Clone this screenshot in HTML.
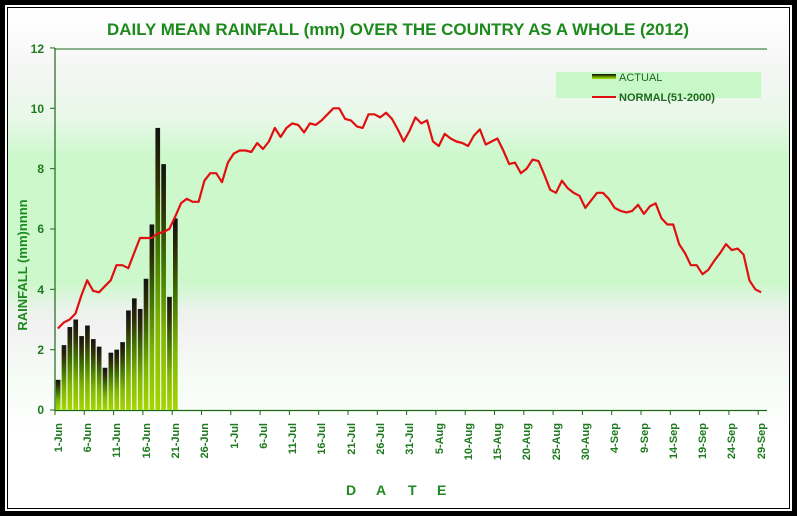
<!DOCTYPE html>
<html><head><meta charset="utf-8"><style>
body{margin:0;background:#000;}
svg{display:block;font-family:"Liberation Sans",sans-serif;}
</style></head><body>
<svg id="c" width="797" height="516" viewBox="0 0 797 516" xmlns="http://www.w3.org/2000/svg">
<defs>
<linearGradient id="bg" x1="0" y1="0" x2="0" y2="1">
<stop offset="0" stop-color="#ffffff"/>
<stop offset="0.13" stop-color="#f4f6f4"/>
<stop offset="0.22" stop-color="#e8f8e8"/>
<stop offset="0.3" stop-color="#ccf8cc"/>
<stop offset="0.55" stop-color="#ccf8cc"/>
<stop offset="0.6" stop-color="#eaf3ea"/>
<stop offset="0.64" stop-color="#f2f2f2"/>
<stop offset="0.75" stop-color="#f6fcf6"/>
<stop offset="0.85" stop-color="#ffffff"/>
<stop offset="1" stop-color="#ffffff"/>
</linearGradient>
<linearGradient id="bar" x1="0" y1="0" x2="0" y2="1">
<stop offset="0" stop-color="#111"/>
<stop offset="0.18" stop-color="#2e2e05"/>
<stop offset="0.4" stop-color="#3f7200"/>
<stop offset="0.7" stop-color="#80b800"/>
<stop offset="1" stop-color="#a5d600"/>
</linearGradient>
</defs>
<rect x="0" y="0" width="797" height="516" fill="#000"/>
<rect x="5" y="5" width="787" height="506" fill="#fff"/>
<rect x="7.5" y="7.5" width="782" height="501" fill="none" stroke="#000" stroke-width="1"/>
<rect x="8" y="8" width="781" height="500" fill="url(#bg)"/>
<text x="398" y="35" text-anchor="middle" font-size="17" font-weight="bold" fill="#1e8a1e" textLength="582" lengthAdjust="spacingAndGlyphs">DAILY MEAN RAINFALL (mm) OVER THE COUNTRY AS A WHOLE  (2012)</text>
<line x1="55" y1="49" x2="767" y2="49" stroke="#1a6a1a" stroke-width="1"/>
<line x1="55" y1="48" x2="55" y2="411" stroke="#1a6a1a" stroke-width="1.2"/>
<line x1="55" y1="410.5" x2="767" y2="410.5" stroke="#1a6a1a" stroke-width="1.2"/>
<g id="bars"></g>
<g id="ticks" stroke="#1a6a1a"></g>
<polyline id="ln" fill="none" stroke="#e01010" stroke-width="2.2" stroke-linejoin="round"/>
<g font-size="12" font-weight="bold" fill="#1e7a1e" text-anchor="end">
<text x="44" y="414">0</text><text x="44" y="354">2</text><text x="44" y="294">4</text>
<text x="44" y="233">6</text><text x="44" y="173">8</text><text x="44" y="113">10</text><text x="44" y="53">12</text>
</g>
<text transform="translate(27,265) rotate(-90)" text-anchor="middle" font-size="13" font-weight="bold" fill="#1e8a1e">RAINFALL (mm)nnnn</text>
<g font-size="11" font-weight="bold" fill="#1e7a1e" text-anchor="end">
<text transform="translate(62,423) rotate(-90)">1-Jun</text>
<text transform="translate(91,423) rotate(-90)">6-Jun</text>
<text transform="translate(120,423) rotate(-90)">11-Jun</text>
<text transform="translate(150,423) rotate(-90)">16-Jun</text>
<text transform="translate(179,423) rotate(-90)">21-Jun</text>
<text transform="translate(208,423) rotate(-90)">26-Jun</text>
<text transform="translate(238,423) rotate(-90)">1-Jul</text>
<text transform="translate(267,423) rotate(-90)">6-Jul</text>
<text transform="translate(296,423) rotate(-90)">11-Jul</text>
<text transform="translate(325,423) rotate(-90)">16-Jul</text>
<text transform="translate(355,423) rotate(-90)">21-Jul</text>
<text transform="translate(384,423) rotate(-90)">26-Jul</text>
<text transform="translate(413,423) rotate(-90)">31-Jul</text>
<text transform="translate(443,423) rotate(-90)">5-Aug</text>
<text transform="translate(472,423) rotate(-90)">10-Aug</text>
<text transform="translate(501,423) rotate(-90)">15-Aug</text>
<text transform="translate(530,423) rotate(-90)">20-Aug</text>
<text transform="translate(560,423) rotate(-90)">25-Aug</text>
<text transform="translate(589,423) rotate(-90)">30-Aug</text>
<text transform="translate(618,423) rotate(-90)">4-Sep</text>
<text transform="translate(648,423) rotate(-90)">9-Sep</text>
<text transform="translate(677,423) rotate(-90)">14-Sep</text>
<text transform="translate(706,423) rotate(-90)">19-Sep</text>
<text transform="translate(735,423) rotate(-90)">24-Sep</text>
<text transform="translate(765,423) rotate(-90)">29-Sep</text>
</g>
<g font-size="14" font-weight="bold" fill="#1e8a1e">
<text x="346" y="495">D</text><text x="376" y="495">A</text><text x="408" y="495">T</text><text x="437" y="495">E</text>
</g>
<rect x="556" y="72" width="205" height="26" fill="#c8f8c8"/>
<rect x="592" y="74" width="24" height="5" fill="url(#bar)"/>
<line x1="592" y1="97" x2="616" y2="97" stroke="#e01010" stroke-width="2"/>
<text x="619" y="81" font-size="11" fill="#1a6a1a">ACTUAL</text>
<text x="619" y="101" font-size="11" font-weight="bold" fill="#1a6a1a">NORMAL(51-2000)</text>
</svg>
<script>
var bars=[1.0,2.15,2.75,3.0,2.45,2.8,2.35,2.1,1.4,1.9,2.0,2.25,3.3,3.7,3.35,4.35,6.15,9.35,8.15,3.75,6.35];
var nor=[2.7,2.9,3.0,3.2,3.8,4.3,3.95,3.9,4.1,4.3,4.8,4.8,4.7,5.2,5.7,5.7,5.7,5.85,5.9,6.0,6.4,6.85,7.0,6.9,6.9,7.6,7.85,7.85,7.55,8.2,8.5,8.6,8.6,8.55,8.85,8.65,8.9,9.35,9.05,9.35,9.5,9.45,9.2,9.5,9.45,9.6,9.8,10.0,10.0,9.65,9.6,9.4,9.35,9.8,9.8,9.7,9.85,9.65,9.3,8.9,9.25,9.7,9.5,9.6,8.9,8.75,9.15,9.0,8.9,8.85,8.75,9.1,9.3,8.8,8.9,9.0,8.6,8.15,8.2,7.85,8.0,8.3,8.25,7.8,7.3,7.2,7.6,7.35,7.2,7.1,6.7,6.95,7.2,7.2,7.0,6.7,6.6,6.55,6.6,6.8,6.5,6.75,6.85,6.35,6.15,6.15,5.5,5.2,4.8,4.8,4.5,4.65,4.95,5.2,5.5,5.3,5.35,5.15,4.3,4.0,3.9];
var NS="http://www.w3.org/2000/svg",dx=5.86,x0=55,y0=410,k=30.17;
var g=document.getElementById("bars");
bars.forEach(function(v,i){var r=document.createElementNS(NS,"rect");var h=v*k;
r.setAttribute("x",x0+i*dx+0.8);r.setAttribute("width",dx-1.2);r.setAttribute("y",y0-h);r.setAttribute("height",h);r.setAttribute("fill","url(#bar)");g.appendChild(r);});
var t=document.getElementById("ticks");
for(var i=0;i<=24;i++){var l=document.createElementNS(NS,"line");var x=x0+i*5*dx;l.setAttribute("x1",x);l.setAttribute("x2",x);l.setAttribute("y1",410);l.setAttribute("y2",415);t.appendChild(l);}
for(var j=0;j<=6;j++){var l=document.createElementNS(NS,"line");var y=y0-j*2*k;l.setAttribute("x1",50);l.setAttribute("x2",55);l.setAttribute("y1",y);l.setAttribute("y2",y);t.appendChild(l);}
document.getElementById("ln").setAttribute("points",nor.map(function(v,i){return (x0+(i+0.5)*dx).toFixed(1)+","+(y0-v*k).toFixed(1);}).join(" "));
</script>
</body></html>
